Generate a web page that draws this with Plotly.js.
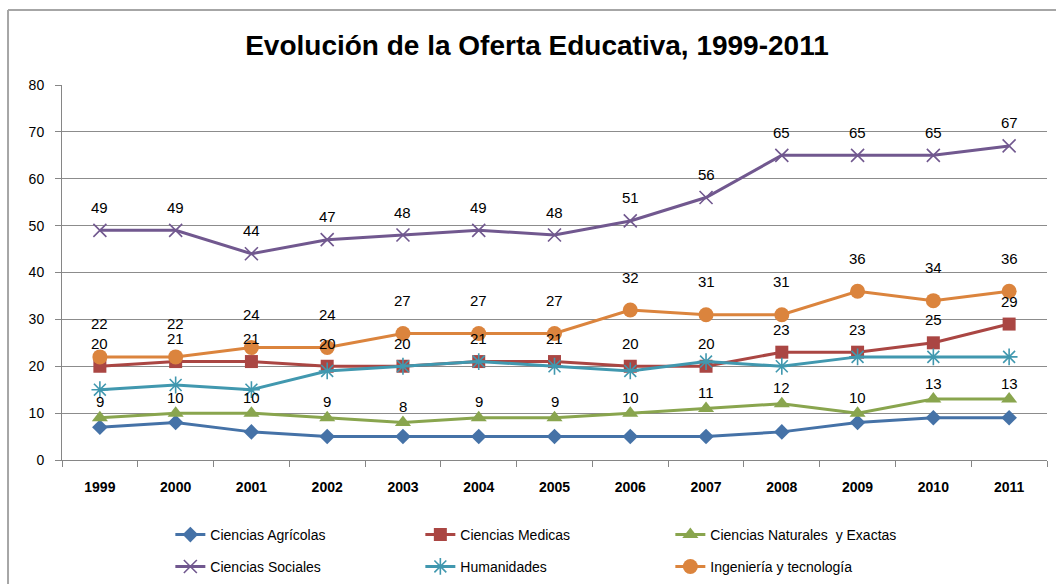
<!DOCTYPE html>
<html>
<head>
<meta charset="utf-8">
<script src="https://cdn.plot.ly/plotly-3.0.1.min.js"></script>
<style>
html,body{margin:0;padding:0;background:#fff;}
#chart{width:1056px;height:584px;}
</style>
</head>
<body>
<div id="chart"></div>
<script>
const years = ["1999","2000","2001","2002","2003","2004","2005","2006","2007","2008","2009","2010","2011"];
const agricolas   = [7, 8, 6, 5, 5, 5, 5, 5, 5, 6, 8, 9, 9];
const medicas     = [20, 21, 21, 20, 20, 21, 21, 20, 20, 23, 23, 25, 29];
const naturales   = [9, 10, 10, 9, 8, 9, 9, 10, 11, 12, 10, 13, 13];
const sociales    = [49, 49, 44, 47, 48, 49, 48, 51, 56, 65, 65, 65, 67];
const humanidades = [15, 16, 15, 19, 20, 21, 20, 19, 21, 20, 22, 22, 22];
const ingenieria  = [22, 22, 24, 24, 27, 27, 27, 32, 31, 31, 36, 34, 36];

const seriesNames = ["Ciencias Agrícolas","Ciencias Medicas","Ciencias Naturales  y Exactas","Ciencias Sociales","Humanidades","Ingeniería y tecnología"];
const seriesData = [agricolas, medicas, naturales, sociales, humanidades, ingenieria];
const colors = ["#4572A7","#AA4643","#89A54E","#71588F","#4198AF","#DB843D"];
const symbols = ["diamond","square","triangle-up","x-thin-open","asterisk-open","circle"];
const msizes = [12, 13, 14, 13, 14, 15];
const showLabels = [false, true, true, true, false, true];
const labelShift = [0, 23, 16, 23, 0, 33];
const legendGroups = ["legend","legend","legend","legend2","legend2","legend2"];

const traces = seriesData.map((d,i)=>({
  type:'scatter', mode:'lines+markers', name: seriesNames[i],
  x: years, y: d, legend: legendGroups[i],
  line:{color:colors[i], width:3},
  marker:{symbol:symbols[i], size:msizes[i], color:colors[i], line:{color:colors[i], width:(i===3||i===4)?1.6:0}},
  cliponaxis:false
}));

const annotations = [];
seriesData.forEach((d,i)=>{
  if(!showLabels[i]) return;
  d.forEach((v,j)=>{
    annotations.push({x: j, y: v, xref:'x', yref:'y', text: String(v), showarrow:false,
      yshift: labelShift[i], font:{family:'Liberation Sans, Arial, sans-serif', size:15, color:'#000'}});
  });
});

const legendCommon = {orientation:'h', xanchor:'left', yanchor:'middle', entrywidth:205, entrywidthmode:'pixels',
  font:{family:'Liberation Sans, Arial, sans-serif', size:14, color:'#000'}, itemwidth:30, bgcolor:'rgba(0,0,0,0)'};

const layout = {
  width:1056, height:584,
  paper_bgcolor:'#fff', plot_bgcolor:'#fff',
  margin:{l:62, r:9, t:85, b:124, autoexpand:false},
  title:{text:'<b>Evolución de la Oferta Educativa, 1999-2011</b>', x:0.5085, xanchor:'center', y:0.922, yanchor:'middle',
    font:{family:'Liberation Sans Narrow, Arial Narrow, Liberation Sans, sans-serif', size:28, color:'#000'}},
  xaxis:{type:'category', showgrid:false, showline:true, linecolor:'#868686', linewidth:1,
    ticks:'outside', tickson:'boundaries', ticklen:6, tickcolor:'#868686', ticklabelstandoff:14,
    tickfont:{family:'Liberation Sans, Arial, sans-serif', size:14, color:'#000', weight:'bold'},
    range:[-0.5, 12.5], zeroline:false},
  yaxis:{range:[0,80], dtick:10, showgrid:true, gridcolor:'#8c8c8c', gridwidth:1,
    showline:true, linecolor:'#868686', linewidth:1, ticks:'outside', ticklen:6, tickcolor:'#868686', ticklabelstandoff:8,
    tickfont:{family:'Liberation Sans, Arial, sans-serif', size:14, color:'#000'}, zeroline:false},
  showlegend:true,
  legend: Object.assign({x:0.11, y:-0.2}, legendCommon),
  legend2: Object.assign({x:0.11, y:-0.285}, legendCommon),
  annotations: annotations,
  shapes:[
    {type:'line', xref:'paper', yref:'paper', x0:-0.0548, x1:-0.0548, y0:1.2, y1:-0.4, line:{color:'#a6a6a6', width:2}},
    {type:'line', xref:'paper', yref:'paper', x0:-0.0548, x1:1.02, y0:1.2, y1:1.2, line:{color:'#a6a6a6', width:2}}
  ]
};

Plotly.newPlot('chart', traces, layout, {displayModeBar:false, staticPlot:true});
</script>
</body>
</html>
